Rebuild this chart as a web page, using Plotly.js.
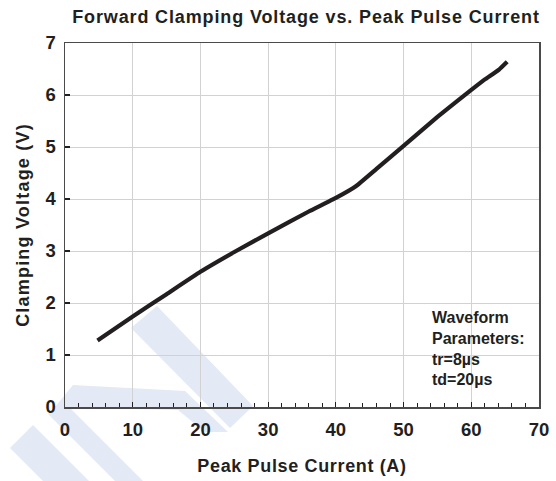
<!DOCTYPE html>
<html>
<head>
<meta charset="utf-8">
<script src="https://cdn.plot.ly/plotly-3.0.1.min.js"></script>
<style>
  html, body { margin: 0; padding: 0; background: #ffffff; }
  #chart { width: 556px; height: 481px; }
  .gtitle { letter-spacing: 0.87px; }
  .xtitle { letter-spacing: 0.65px; }
  .ytitle { letter-spacing: 1.2px; }
</style>
</head>
<body>
<div id="chart"></div>
<script>
// Data
const currentA = [4.8, 10, 15, 20, 25, 30, 36, 40, 42.9, 46, 50, 55, 60, 62, 64.1, 65.3];
const clampV   = [1.28, 1.74, 2.17, 2.60, 2.98, 3.34, 3.76, 4.02, 4.24, 4.58, 5.02, 5.58, 6.10, 6.30, 6.49, 6.64];
const xTicks = [0, 10, 20, 30, 40, 50, 60, 70];
const yTicks = [0, 1, 2, 3, 4, 5, 6, 7];
const noteLines = ["Waveform", "Parameters:", "tr=8\u00b5s", "td=20\u00b5s"];

// Geometry of the plot area in pixels (for watermark placement)
const L = 65, R = 539, T = 43, B = 407;
function px(x) { return (x - L) / (R - L); }
function py(y) { return (B - y) / (B - T); }
function poly(pts) {
  return pts.map((p, i) => (i ? 'L' : 'M') + px(p[0]).toFixed(4) + ',' + py(p[1]).toFixed(4)).join(' ') + ' Z';
}
const wmColor = '#e3eaf6';
const watermark = [
  [[131,328],[157,306],[253,406],[230,428]],
  [[55,407],[73,385],[185,391],[228,432],[205,432],[178,410]],
  [[10,448],[33,425],[89,481],[43,481]],
  [[48,414],[62,400],[143,481],[115,481]]
].map(p => ({
  type: 'path', xref: 'paper', yref: 'paper', path: poly(p),
  fillcolor: wmColor, line: {width: 0}, layer: 'below'
}));

const fontFam = '"Liberation Sans", Arial, sans-serif';

const trace = {
  x: currentA, y: clampV, type: 'scatter', mode: 'lines',
  line: {color: '#231f20', width: 4.2, shape: 'spline', smoothing: 0.3},
  hoverinfo: 'skip', showlegend: false
};

const layout = {
  width: 556, height: 481,
  margin: {l: L, r: 556 - R, t: T, b: 481 - B, pad: 0},
  paper_bgcolor: 'rgba(0,0,0,0)',
  plot_bgcolor: 'rgba(0,0,0,0)',
  font: {family: fontFam, color: '#231f20'},
  title: {
    text: '<b>Forward Clamping Voltage vs. Peak Pulse Current</b>',
    font: {family: fontFam, size: 18, color: '#231f20'},
    x: 306 / 556, xref: 'container', xanchor: 'center',
    y: 1 - 16.5 / 481, yref: 'container', yanchor: 'middle'
  },
  xaxis: {
    range: [0, 70], tickvals: xTicks, ticktext: xTicks.map(String),
    showgrid: true, gridcolor: '#d2d2d2', gridwidth: 1,
    zeroline: false, showline: true, linecolor: '#4a4a4a', linewidth: 1.5, mirror: true,
    ticks: 'inside', ticklen: 5, tickwidth: 1.2, tickcolor: '#231f20',
    minor: {dtick: 2, ticks: 'inside', ticklen: 4, tickwidth: 1, tickcolor: '#231f20', showgrid: false},
    tickfont: {family: fontFam, size: 18.5, weight: 'bold', color: '#231f20'},
    ticklabelstandoff: 5,
    title: {text: '<b>Peak Pulse Current (A)</b>', font: {family: fontFam, size: 18, color: '#231f20'}, standoff: 20}
  },
  yaxis: {
    range: [0, 7], tickvals: yTicks, ticktext: yTicks.map(String),
    showgrid: true, gridcolor: '#d2d2d2', gridwidth: 1,
    zeroline: false, showline: true, linecolor: '#4a4a4a', linewidth: 1.5, mirror: true,
    ticks: 'inside', ticklen: 5, tickwidth: 1.2, tickcolor: '#231f20',
    tickfont: {family: fontFam, size: 18.5, weight: 'bold', color: '#231f20'},
    ticklabelstandoff: 4,
    title: {text: '<b>Clamping Voltage (V)</b>', font: {family: fontFam, size: 18, color: '#231f20'}, standoff: 11}
  },
  shapes: watermark,
  annotations: [{
    text: '<b>' + noteLines.join('<br>') + '</b>',
    xref: 'paper', yref: 'paper', x: px(430), y: py(348.5),
    xanchor: 'left', yanchor: 'middle', align: 'left', showarrow: false,
    font: {family: fontFam, size: 16, color: '#231f20'}
  }]
};

Plotly.newPlot('chart', [trace], layout, {displayModeBar: false, staticPlot: true});
</script>
</body>
</html>
